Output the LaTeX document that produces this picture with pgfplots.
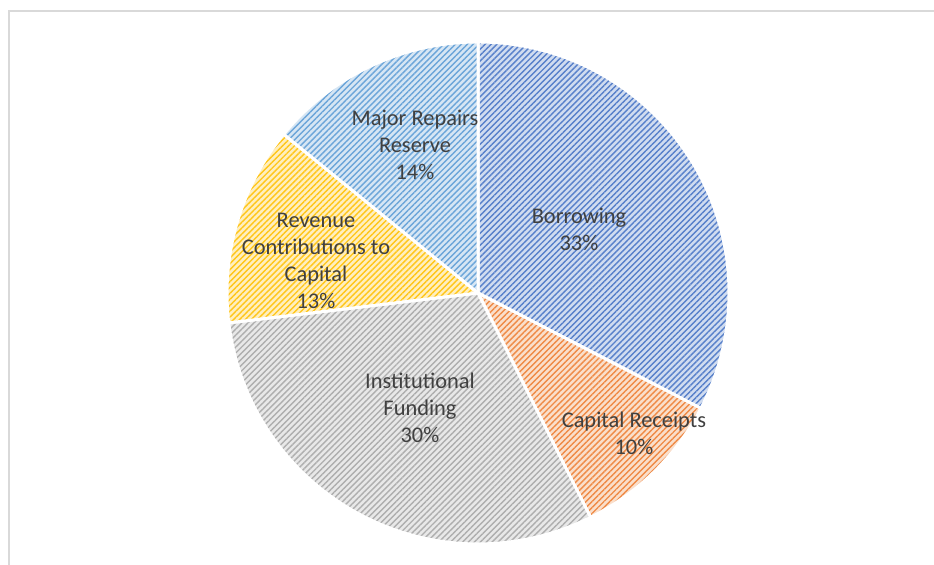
\documentclass[border=0pt]{standalone}
\usepackage{fontspec}
\setmainfont{Carlito}
\usepackage{pgfplots}
\usepackage{pgfplotstable}
\pgfplotsset{compat=1.18}
\usetikzlibrary{patterns.meta}

\definecolor{cBor}{HTML}{4472C4}
\definecolor{cCap}{HTML}{ED7D31}
\definecolor{cIns}{HTML}{A5A5A5}
\definecolor{cRev}{HTML}{FFC000}
\definecolor{cMaj}{HTML}{5B9BD5}
\definecolor{txt}{HTML}{404040}
\definecolor{frame}{HTML}{D9D9D9}

% share of each source (%), clockwise from 12 o'clock
\pgfplotstableread{
source value
Borrowing 32.6
CapitalReceipts 10.0
InstitutionalFunding 30.5
RevenueContributions 12.8
MajorRepairsReserve 14.1
}\piedata

\pgfplotstablegetelem{0}{value}\of\piedata \let\vA\pgfplotsretval
\pgfplotstablegetelem{1}{value}\of\piedata \let\vB\pgfplotsretval
\pgfplotstablegetelem{2}{value}\of\piedata \let\vC\pgfplotsretval
\pgfplotstablegetelem{3}{value}\of\piedata \let\vD\pgfplotsretval
\pgfplotstablegetelem{4}{value}\of\piedata \let\vE\pgfplotsretval

\pgfmathsetmacro\tA{0}
\pgfmathsetmacro\tB{\tA+3.6*\vA}
\pgfmathsetmacro\tC{\tB+3.6*\vB}
\pgfmathsetmacro\tD{\tC+3.6*\vC}
\pgfmathsetmacro\tE{\tD+3.6*\vD}
\pgfmathsetmacro\tF{\tE+3.6*\vE}

% centre and radius in axis units (1 unit = 0.5pt)
\def\cx{478}
\def\cy{272}
\def\rr{251}

% #1 start angle, #2 end angle, #3 colour
\newcommand\slice[3]{%
  \path[fill=#3!25!white,
        postaction={pattern={Lines[angle=45, distance=2.1pt, line width=0.7pt]}, pattern color=#3!90!white}]
    (axis cs:\cx,\cy) -- (axis cs:{\cx+\rr*sin(#1)},{\cy+\rr*cos(#1)})
    arc[start angle={90-#1}, end angle={90-#2}, radius=125.5pt] -- cycle;
  \draw[white, line width=1.5pt]
    (axis cs:\cx,\cy) -- (axis cs:{\cx+\rr*sin(#1)},{\cy+\rr*cos(#1)})
    arc[start angle={90-#1}, end angle={90-#2}, radius=125.5pt] -- cycle;
}

\begin{document}
\begin{tikzpicture}
\begin{axis}[
  scale only axis,
  width=467pt, height=282.5pt,
  xmin=0, xmax=934, ymin=0, ymax=565,
  enlargelimits=false,
  hide axis,
  clip=false,
]
\coordinate (bl) at (axis cs:0,0);
\coordinate (tr) at (axis cs:934,565);
\draw[frame, line width=1pt] (axis cs:9,0) -- (axis cs:9,554) -- (axis cs:934,554);

\slice{\tA}{\tB}{cBor}
\slice{\tB}{\tC}{cCap}
\slice{\tC}{\tD}{cIns}
\slice{\tD}{\tE}{cRev}
\slice{\tE}{\tF}{cMaj}

\tikzset{lbl/.style={text=txt, align=center, font=\fontsize{11.2}{13.5}\selectfont, inner sep=0pt}}
\node[lbl] at (axis cs:579,336) {Borrowing\\33\%};
\node[lbl] at (axis cs:634,132) {Capital Receipts\\10\%};
\node[lbl] at (axis cs:420,157) {Institutional\\Funding\\30\%};
\node[lbl] at (axis cs:316,304) {Revenue\\Contributions to\\Capital\\13\%};
\node[lbl] at (axis cs:415,420) {Major Repairs\\Reserve\\14\%};
\end{axis}
\pgfresetboundingbox
\path (bl) rectangle (tr);
\end{tikzpicture}
\end{document}
